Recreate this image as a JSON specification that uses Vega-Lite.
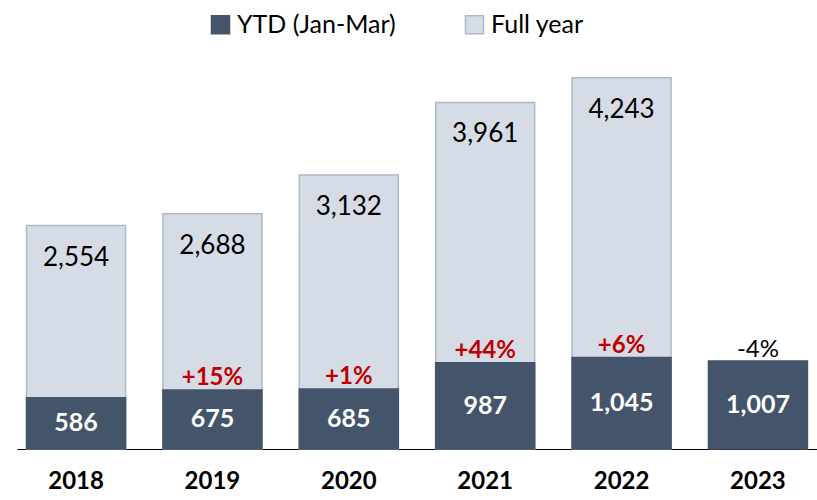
{
  "$schema": "https://vega.github.io/schema/vega-lite/v6.json",
  "autosize": {"type": "none"},
  "width": 800,
  "height": 389,
  "padding": {"left": 17, "top": 60, "right": 0, "bottom": 51},
  "background": "white",
  "config": {
    "font": "Lato",
    "view": {"stroke": null}
  },
  "data": {
    "values": [
      {"year": "2018", "series": "Full year", "value": 2554},
      {"year": "2019", "series": "Full year", "value": 2688},
      {"year": "2020", "series": "Full year", "value": 3132},
      {"year": "2021", "series": "Full year", "value": 3961},
      {"year": "2022", "series": "Full year", "value": 4243},
      {"year": "2018", "series": "YTD (Jan-Mar)", "value": 586},
      {"year": "2019", "series": "YTD (Jan-Mar)", "value": 675, "pct": "+15%"},
      {"year": "2020", "series": "YTD (Jan-Mar)", "value": 685, "pct": "+1%"},
      {"year": "2021", "series": "YTD (Jan-Mar)", "value": 987, "pct": "+44%"},
      {"year": "2022", "series": "YTD (Jan-Mar)", "value": 1045, "pct": "+6%"},
      {"year": "2023", "series": "YTD (Jan-Mar)", "value": 1007, "pct": "-4%"}
    ]
  },
  "encoding": {
    "x": {
      "field": "year",
      "type": "nominal",
      "scale": {"paddingInner": 0.274, "paddingOuter": 0.07},
      "axis": {
        "title": null,
        "labelAngle": 0,
        "ticks": false,
        "domainColor": "#000000",
        "domainWidth": 1,
        "labelFontSize": 24,
        "labelFontWeight": "bold",
        "labelColor": "#000000",
        "labelPadding": 20
      }
    }
  },
  "layer": [
    {
      "mark": {"type": "bar", "strokeWidth": 1.5},
      "encoding": {
        "y": {"field": "value", "type": "quantitative", "stack": null, "scale": {"domain": [0, 4446], "nice": false}, "axis": null},
        "color": {
          "field": "series",
          "type": "nominal",
          "scale": {"domain": ["YTD (Jan-Mar)", "Full year"], "range": ["#44546A", "#D6DCE5"]},
          "legend": {
            "title": null,
            "orient": "none",
            "direction": "horizontal",
            "legendX": 191,
            "legendY": -48,
            "symbolType": "square",
            "symbolSize": 324,
            "symbolStrokeWidth": 1.5,
            "labelFontSize": 25,
            "labelColor": "#000000",
            "labelOffset": 4,
            "columnPadding": 66,
            "padding": 0
          }
        },
        "stroke": {
          "field": "series",
          "type": "nominal",
          "scale": {"domain": ["YTD (Jan-Mar)", "Full year"], "range": ["#44546A", "#ADB9CA"]},
          "legend": {
            "title": null,
            "orient": "none",
            "direction": "horizontal",
            "legendX": 191,
            "legendY": -48,
            "symbolType": "square",
            "symbolSize": 324,
            "symbolStrokeWidth": 1.5,
            "labelFontSize": 25,
            "labelColor": "#000000",
            "labelOffset": 4,
            "columnPadding": 66,
            "padding": 0
          }
        }
      }
    },
    {
      "transform": [{"filter": "datum.series === 'Full year'"}],
      "mark": {"type": "text", "fontSize": 26, "color": "#000000", "baseline": "alphabetic", "dy": 40},
      "encoding": {
        "y": {"field": "value", "type": "quantitative", "stack": null},
        "text": {"field": "value", "type": "quantitative", "format": ","}
      }
    },
    {
      "transform": [
        {"filter": "datum.series === 'YTD (Jan-Mar)'"},
        {"calculate": "datum.value / 2", "as": "mid"}
      ],
      "mark": {"type": "text", "fontSize": 25, "fontWeight": "bold", "color": "#FFFFFF", "baseline": "middle"},
      "encoding": {
        "y": {"field": "mid", "type": "quantitative", "stack": null},
        "text": {"field": "value", "type": "quantitative", "format": ","}
      }
    },
    {
      "transform": [{"filter": "datum.series === 'YTD (Jan-Mar)' && datum.pct && indexof(datum.pct, '+') === 0"}],
      "mark": {"type": "text", "fontSize": 24, "fontWeight": "bold", "color": "#C00000", "baseline": "alphabetic", "dy": -5},
      "encoding": {
        "y": {"field": "value", "type": "quantitative", "stack": null},
        "text": {"field": "pct", "type": "nominal"}
      }
    },
    {
      "transform": [{"filter": "datum.series === 'YTD (Jan-Mar)' && datum.pct && indexof(datum.pct, '-') === 0"}],
      "mark": {"type": "text", "fontSize": 24, "color": "#000000", "baseline": "alphabetic", "dy": -4},
      "encoding": {
        "y": {"field": "value", "type": "quantitative", "stack": null},
        "text": {"field": "pct", "type": "nominal"}
      }
    }
  ]
}
